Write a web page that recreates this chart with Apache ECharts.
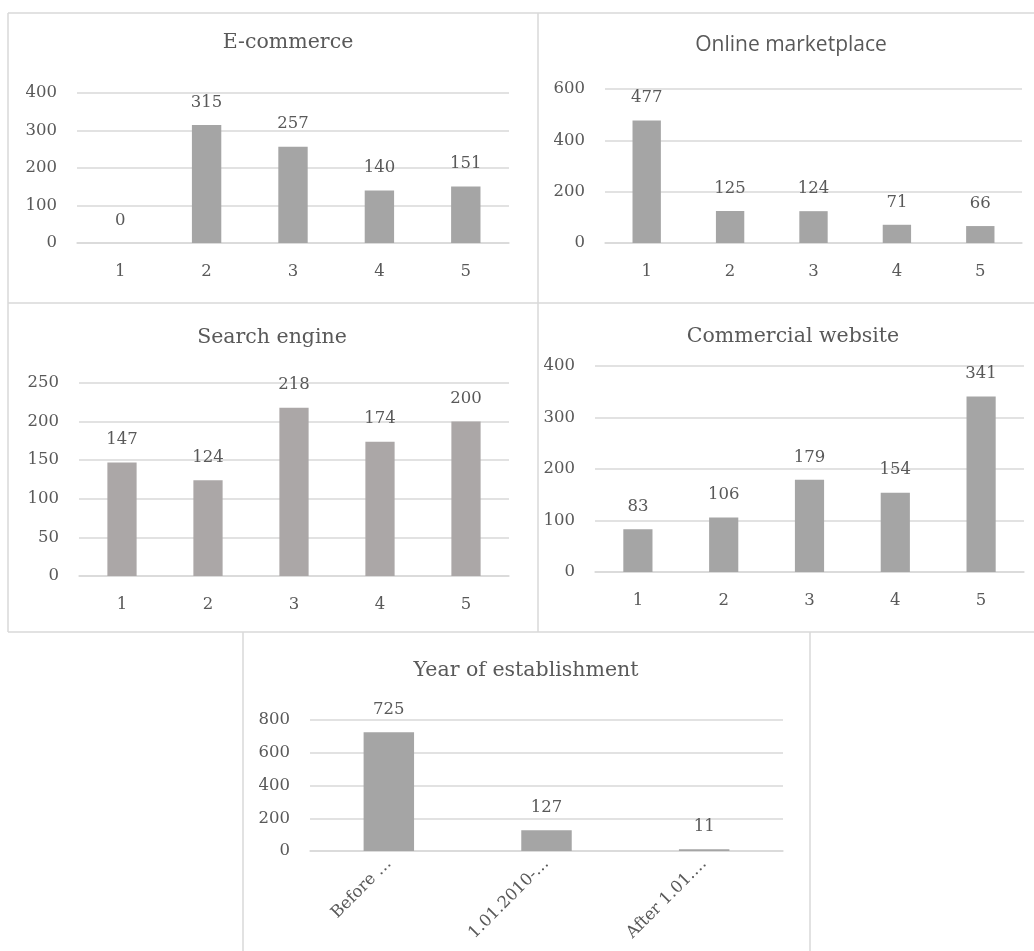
<!DOCTYPE html>
<html>
<head>
<meta charset="utf-8">
<script src="https://cdn.jsdelivr.net/npm/echarts@6/dist/echarts.min.js"></script>
<style>
  html, body { margin: 0; padding: 0; background: #fff; }
  #main { width: 1034px; height: 951px; }
</style>
</head>
<body>
<div id="main"></div>
<script>
// data
var categories = ['1', '2', '3', '4', '5'];
var ecommerce = [0, 315, 257, 140, 151];
var marketplace = [477, 125, 124, 71, 66];
var searchEngine = [147, 124, 218, 174, 200];
var commercialSite = [83, 106, 179, 154, 341];
var yearLabels = ['Before …', '1.01.2010-…', 'After 1.01.…'];
var yearValues = [725, 127, 11];

var titles = ['E-commerce', 'Online marketplace', 'Search engine', 'Commercial website', 'Year of establishment'];
var axisMax = [400, 600, 250, 400, 800];
var axisStep = [100, 200, 50, 100, 200];

var textColor = '#595959';
var lineColor = '#d9d9d9';
var serif = '"DejaVu Serif", serif';
var fs = 16.5;

// panel layout: grid box + title centre
var panels = [
    { left: 77, top: 93, width: 432, height: 150, tx: 288, ty: 43, cats: categories, vals: ecommerce, color: '#a5a5a5', bw: '34%' },
    { left: 605, top: 89, width: 417, height: 154, tx: 791, ty: 45, cats: categories, vals: marketplace, color: '#a5a5a5', bw: '34%', sans: true },
    { left: 79, top: 383, width: 430, height: 193, tx: 272, ty: 338, cats: categories, vals: searchEngine, color: '#aba7a7', bw: '34%' },
    { left: 595, top: 366, width: 429, height: 206, tx: 793, ty: 337, cats: categories, vals: commercialSite, color: '#a5a5a5', bw: '34%' },
    { left: 310, top: 720, width: 473, height: 131, tx: 526, ty: 671, cats: yearLabels, vals: yearValues, color: '#a5a5a5', bw: '32%', rotate: true }
];

var chart = echarts.init(document.getElementById('main'));

var option = {
    animation: false,
    backgroundColor: '#fff',
    title: [], grid: [], xAxis: [], yAxis: [], series: [],
    graphic: []
};

panels.forEach(function (p, i) {
    option.title.push({
        text: titles[i],
        left: p.tx,
        top: p.ty - 12,
        padding: 0,
        textAlign: 'center',
        textStyle: {
            fontFamily: p.sans ? '"Open Sans", sans-serif' : serif,
            fontSize: p.sans ? 21 : 20.5,
            fontWeight: 'normal',
            color: textColor,
            lineHeight: 24
        }
    });
    option.grid.push({ left: p.left, top: p.top, width: p.width, height: p.height, containLabel: false });
    option.xAxis.push({
        type: 'category',
        gridIndex: i,
        data: p.cats,
        axisLine: { show: true, lineStyle: { color: lineColor, width: 1.5 } },
        axisTick: { show: false },
        axisLabel: p.rotate ? {
            rotate: 45, margin: 10, color: textColor, fontFamily: serif, fontSize: fs, interval: 0
        } : {
            margin: 20, color: textColor, fontFamily: serif, fontSize: fs, interval: 0
        }
    });
    option.yAxis.push({
        type: 'value',
        gridIndex: i,
        min: 0,
        max: axisMax[i],
        interval: axisStep[i],
        axisLine: { show: false },
        axisTick: { show: false },
        splitLine: { lineStyle: { color: lineColor, width: 1.5 } },
        axisLabel: { margin: 20, color: textColor, fontFamily: serif, fontSize: fs }
    });
    option.series.push({
        type: 'bar',
        xAxisIndex: i,
        yAxisIndex: i,
        data: p.vals,
        barWidth: p.bw,
        itemStyle: { color: p.color },
        label: {
            show: true,
            position: 'top',
            distance: 14,
            color: textColor,
            fontFamily: serif,
            fontSize: fs
        }
    });
});

// panel borders
var border = { stroke: lineColor, lineWidth: 1.5 };
[
    [8, 13, 1034, 13],
    [8, 303, 1034, 303],
    [8, 632, 1034, 632],
    [8, 13, 8, 632],
    [538, 13, 538, 632],
    [243, 632, 243, 951],
    [810, 632, 810, 951]
].forEach(function (l) {
    option.graphic.push({
        type: 'line',
        silent: true,
        shape: { x1: l[0], y1: l[1], x2: l[2], y2: l[3] },
        style: border
    });
});

chart.setOption(option);
</script>
</body>
</html>
